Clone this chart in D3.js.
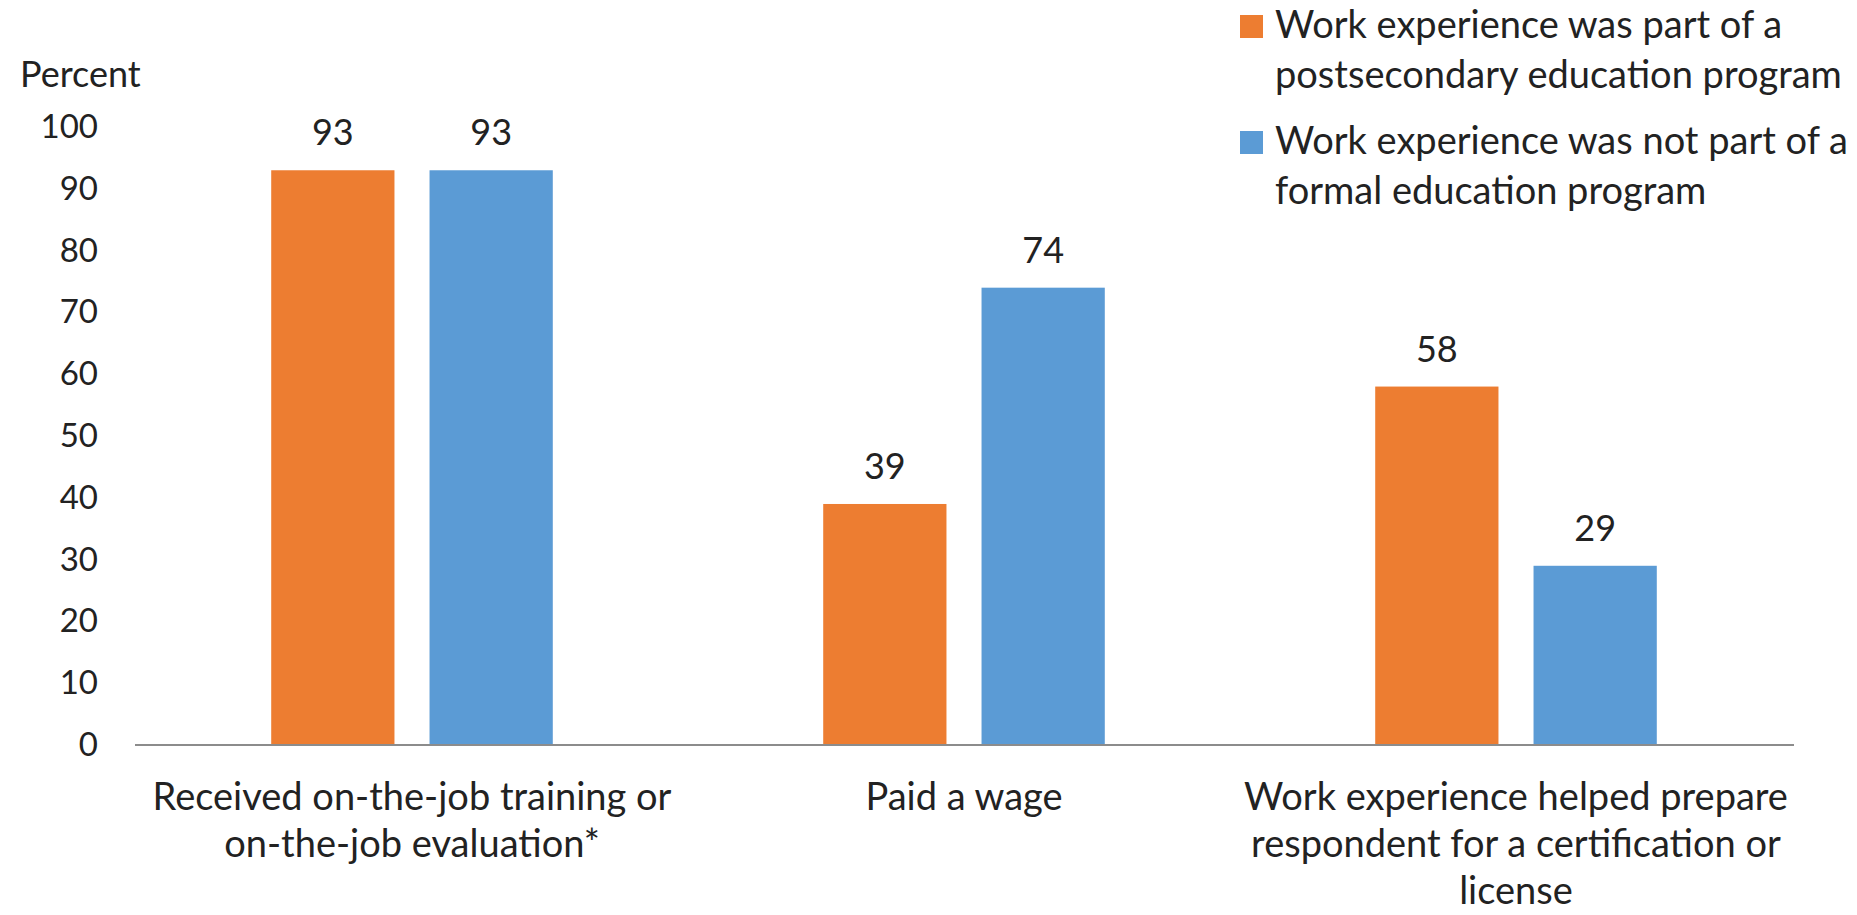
<!DOCTYPE html>
<html>
<head>
<meta charset="utf-8">
<script src="https://cdn.jsdelivr.net/npm/d3@7"></script>
<style>
  html, body { margin: 0; padding: 0; background: #ffffff; }
  svg { display: block; }
  text { font-family: Lato, "Open Sans", sans-serif; fill: #222222; }
</style>
</head>
<body>
<svg id="chart" width="1857" height="915"></svg>
<script>
// ---- Data ----
const categories = [
  "Received on-the-job training or on-the-job evaluation*",
  "Paid a wage",
  "Work experience helped prepare respondent for a certification or license"
];
const categoryLines = [
  ["Received on-the-job training or", "on-the-job evaluation*"],
  ["Paid a wage"],
  ["Work experience helped prepare", "respondent for a certification or", "license"]
];
const seriesNames = [
  "Work experience was part of a postsecondary education program",
  "Work experience was not part of a formal education program"
];
const seriesLegendLines = [
  ["Work experience was part of a", "postsecondary education program"],
  ["Work experience was not part of a", "formal education program"]
];
const postsecondaryValues = [93, 39, 58];
const notFormalValues = [93, 74, 29];
const yTicks = [0, 10, 20, 30, 40, 50, 60, 70, 80, 90, 100];
const seriesColors = ["#ED7D31", "#5B9BD5"];

// ---- Layout ----
const svg = d3.select("#chart");
const plot = { left: 136, right: 1792, top: 127, bottom: 745 };
const labelFont = 38;
const tickFont = 33;
const valueFont = 36;

const x0 = d3.scaleBand().domain(categories).range([plot.left, plot.right]).padding(0);
const x1 = d3.scaleBand().domain(seriesNames).range([0, x0.bandwidth()])
  .paddingInner(0.2215).paddingOuter(0.854);
const y = d3.scaleLinear().domain([0, 100]).range([plot.bottom, plot.top]);

const seriesValues = [postsecondaryValues, notFormalValues];
const rows = categories.map((c, i) => ({
  category: c,
  values: seriesNames.map((s, j) => ({ series: s, value: seriesValues[j][i], color: seriesColors[j] }))
}));

// ---- Y axis ----
const yAxis = d3.axisLeft(y).tickValues(yTicks).tickSize(0).tickPadding(38);
const yG = svg.append("g").attr("transform", `translate(${plot.left},0)`).call(yAxis);
yG.select(".domain").remove();
yG.selectAll("text")
  .style("font-family", "Lato, 'Open Sans', sans-serif")
  .style("font-size", tickFont + "px")
  .attr("fill", "#222222");

svg.append("text")
  .attr("x", 20).attr("y", 87)
  .style("font-size", "36px")
  .text("Percent");

// ---- Bars ----
const groups = svg.append("g").selectAll("g")
  .data(rows).join("g")
  .attr("transform", d => `translate(${x0(d.category)},0)`);

groups.selectAll("rect")
  .data(d => d.values).join("rect")
  .attr("x", d => x1(d.series))
  .attr("y", d => y(d.value))
  .attr("width", x1.bandwidth())
  .attr("height", d => y(0) - y(d.value))
  .attr("fill", d => d.color);

groups.selectAll("text.val")
  .data(d => d.values).join("text")
  .attr("class", "val")
  .attr("x", d => x1(d.series) + x1.bandwidth() / 2)
  .attr("y", d => y(d.value) - 25)
  .attr("text-anchor", "middle")
  .style("font-size", valueFont + "px")
  .text(d => d.value);

// ---- X axis ----
const xAxis = d3.axisBottom(x0).tickSize(0).tickFormat("");
const xG = svg.append("g").attr("transform", `translate(0,${plot.bottom})`).call(xAxis);
xG.select(".domain").attr("stroke", "#8c8c8c").attr("stroke-width", 2)
  .attr("d", `M${plot.left - 1},0H${plot.right + 2}`);
xG.selectAll(".tick").each(function(d, i) {
  const t = d3.select(this).append("text")
    .attr("text-anchor", "middle")
    .attr("fill", "#222222")
    .style("font-family", "Lato, 'Open Sans', sans-serif")
    .style("font-size", labelFont + "px");
  categoryLines[i].forEach((line, k) => {
    t.append("tspan").attr("x", 0).attr("y", 65 + k * 47).text(line);
  });
});

// ---- Legend ----
const legend = svg.append("g").attr("transform", "translate(1240,0)");
seriesNames.forEach((s, j) => {
  const top = 15 + j * 116;
  legend.append("rect")
    .attr("x", 0).attr("y", top)
    .attr("width", 23).attr("height", 23)
    .attr("fill", seriesColors[j]);
  const t = legend.append("text").style("font-size", labelFont + "px");
  seriesLegendLines[j].forEach((line, k) => {
    t.append("tspan").attr("x", 35).attr("y", top + 23 + k * 50).text(line);
  });
});
</script>
</body>
</html>
